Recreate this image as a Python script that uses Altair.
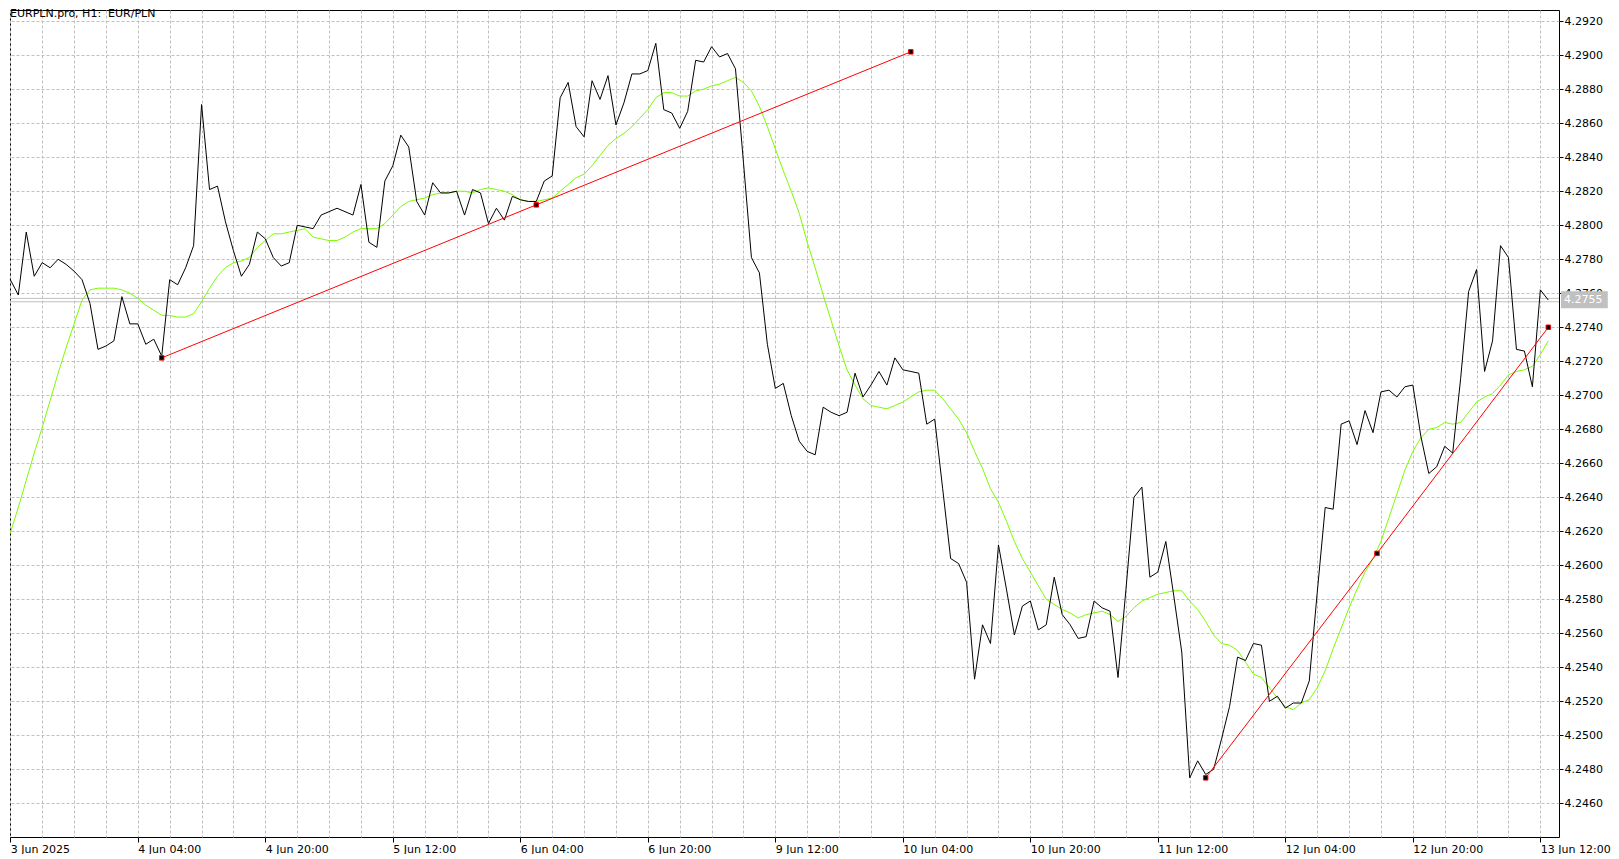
import json
import altair as alt
import pandas as pd

# ---------------- data ----------------
close = [
    4.2768, 4.2759, 4.2796, 4.2770, 4.2778, 4.2775, 4.2780, 4.2777, 4.2773, 4.2768,
    4.2754, 4.2727, 4.2729, 4.2732, 4.2758, 4.2742, 4.2742, 4.2730, 4.2733, 4.2723,
    4.2768, 4.2765, 4.2775, 4.2788, 4.2871, 4.2821, 4.2823, 4.2802, 4.2785, 4.2770,
    4.2777, 4.2796, 4.2792, 4.2781, 4.2776, 4.2778, 4.2800, 4.2799, 4.2798, 4.2806,
    4.2808, 4.2810, 4.2808, 4.2806, 4.2824, 4.2790, 4.2787, 4.2826, 4.2835, 4.2853,
    4.2846, 4.2814, 4.2806, 4.2825, 4.2819, 4.2819, 4.2820, 4.2806, 4.2821, 4.2819,
    4.2801, 4.2810, 4.2803, 4.2817, 4.2815, 4.2814, 4.2814, 4.2826, 4.2829, 4.2875,
    4.2884, 4.2858, 4.2852, 4.2885, 4.2874, 4.2888, 4.2859, 4.2872, 4.2889, 4.2889,
    4.2891, 4.2907, 4.2868, 4.2866, 4.2857, 4.2867, 4.2897, 4.2896, 4.2905, 4.2899,
    4.2901, 4.2892, 4.2837, 4.2781, 4.2772, 4.2730, 4.2704, 4.2707, 4.2688, 4.2673,
    4.2667, 4.2665, 4.2693, 4.2690, 4.2688, 4.2690, 4.2713, 4.2699, 4.2706, 4.2714,
    4.2706, 4.2722, 4.2715, 4.2714, 4.2713, 4.2683, 4.2686, 4.2645, 4.2604, 4.2601,
    4.2590, 4.2533, 4.2565, 4.2554, 4.2612, 4.2586, 4.2559, 4.2576, 4.2579, 4.2562,
    4.2565, 4.2593, 4.2571, 4.2565, 4.2557, 4.2558, 4.2579, 4.2575, 4.2573, 4.2534,
    4.2586, 4.2640, 4.2646, 4.2593, 4.2596, 4.2614, 4.2582, 4.2549, 4.2475, 4.2485,
    4.2477, 4.2480, 4.2498, 4.2517, 4.2546, 4.2544, 4.2554, 4.2553, 4.2520, 4.2523,
    4.2516, 4.2519, 4.2519, 4.2532, 4.2584, 4.2634, 4.2633, 4.2683, 4.2685, 4.2671,
    4.2691, 4.2678, 4.2702, 4.2703, 4.2699, 4.2705, 4.2706, 4.2676, 4.2654, 4.2658,
    4.2670, 4.2666, 4.2710, 4.2761, 4.2774, 4.2714, 4.2732, 4.2788, 4.2781, 4.2727,
    4.2726, 4.2705, 4.2762, 4.2756,
]

ma = [
    4.2619, 4.2634, 4.2650, 4.2666, 4.2681, 4.2697, 4.2713, 4.2728, 4.2742, 4.2756,
    4.2762, 4.2763, 4.2763, 4.2763, 4.2762, 4.2760, 4.2757, 4.2753, 4.2750, 4.2747,
    4.2747, 4.2746, 4.2746, 4.2748, 4.2755, 4.2763, 4.2770, 4.2775, 4.2778, 4.2779,
    4.2781, 4.2787, 4.2791, 4.2795, 4.2795, 4.2796, 4.2797, 4.2798, 4.2793, 4.2792,
    4.2791, 4.2791, 4.2793, 4.2796, 4.2798, 4.2798, 4.2798, 4.2801, 4.2806, 4.2811,
    4.2814, 4.2815, 4.2816, 4.2818, 4.2819, 4.2819, 4.2820, 4.2820, 4.2819, 4.2821,
    4.2822, 4.2821, 4.2820, 4.2818, 4.2815, 4.2814, 4.2814, 4.2815, 4.2816, 4.2820,
    4.2824, 4.2828, 4.2830, 4.2835, 4.2841, 4.2847, 4.2851, 4.2854, 4.2858, 4.2863,
    4.2868, 4.2875, 4.2878, 4.2878, 4.2876, 4.2876, 4.2879, 4.2880, 4.2882, 4.2883,
    4.2885, 4.2887, 4.2884, 4.2879, 4.2870, 4.2858, 4.2845, 4.2832, 4.2820, 4.2807,
    4.2790, 4.2775, 4.2759, 4.2744, 4.2729, 4.2715, 4.2706, 4.2698, 4.2694, 4.2693,
    4.2692, 4.2694, 4.2696, 4.2699, 4.2702, 4.2703, 4.2703, 4.2698, 4.2692, 4.2686,
    4.2678, 4.2667, 4.2657, 4.2645, 4.2637, 4.2626, 4.2614, 4.2604, 4.2596, 4.2588,
    4.2580, 4.2577, 4.2574, 4.2572, 4.2569, 4.2571, 4.2572, 4.2573, 4.2571, 4.2567,
    4.2570, 4.2575, 4.2579, 4.2581, 4.2583, 4.2584, 4.2585, 4.2585, 4.2579, 4.2574,
    4.2567, 4.2559, 4.2554, 4.2553, 4.2550, 4.2543, 4.2536, 4.2534, 4.2528, 4.2522,
    4.2517, 4.2515, 4.2519, 4.2521, 4.2528, 4.2538, 4.2551, 4.2563, 4.2575, 4.2586,
    4.2596, 4.2604, 4.2614, 4.2628, 4.2642, 4.2656, 4.2667, 4.2675, 4.2680, 4.2681,
    4.2684, 4.2683, 4.2684, 4.2690, 4.2696, 4.2699, 4.2701, 4.2706, 4.2712, 4.2714,
    4.2715, 4.2717, 4.2724, 4.2732,
]

trend1_bar = [19, 66, 113]
trend1_val = [4.2722, 4.2812, 4.2902]
trend2_bar = [150, 171.5, 193]
trend2_val = [4.2475, 4.2607, 4.2740]

bid = 4.2755
ask = 4.2757

x_label_bars = [0, 16, 32, 48, 64, 80, 96, 112, 128, 144, 160, 176, 192]
x_labels = ["3 Jun 2025", "4 Jun 04:00", "4 Jun 20:00", "5 Jun 12:00",
            "6 Jun 04:00", "6 Jun 20:00", "9 Jun 12:00", "10 Jun 04:00",
            "10 Jun 20:00", "11 Jun 12:00", "12 Jun 04:00", "12 Jun 20:00",
            "13 Jun 12:00"]
x_grid_bars = [0, 4, 8, 12, 16, 20, 24, 28, 32, 36, 40, 44, 48, 52, 56, 60,
               64, 68, 72, 76, 80, 84, 88, 92, 96, 100, 104, 108, 112, 116,
               120, 124, 128, 132, 136, 140, 144, 148, 152, 156, 160, 164,
               168, 172, 176, 180, 184, 188, 192]
y_ticks = [4.2460, 4.2480, 4.2500, 4.2520, 4.2540, 4.2560, 4.2580, 4.2600,
           4.2620, 4.2640, 4.2660, 4.2680, 4.2700, 4.2720, 4.2740, 4.2760,
           4.2780, 4.2800, 4.2820, 4.2840, 4.2860, 4.2880, 4.2900, 4.2920]

title_text = "EURPLN.pro, H1:\u00a0 EUR/PLN"

# ---------------- chart ----------------
W, H = 1549, 827
FONT = "DejaVu Sans"
GRID = "#c0c0c0"

xs = alt.Scale(domain=[-0.04, 194.34], nice=False, zero=False)
ys = alt.Scale(domain=[4.24402, 4.29266], nice=False, zero=False)

label_expr = ("datum.value % 16 === 0 ? " + json.dumps(x_labels) +
              "[datum.value / 16] : ''")

x_axis = alt.Axis(values=x_grid_bars, grid=True, gridColor=GRID,
                  gridDash=[3, 2], gridWidth=1, domain=False,
                  ticks=True, tickColor="#000000", tickSize=5,
                  tickOpacity={"condition": {"test": "datum.value % 16 === 0", "value": 1}, "value": 0},
                  labelExpr=label_expr, labelAlign="left", labelBaseline="top",
                  labelPadding=1, labelFont=FONT, labelFontSize=11,
                  labelColor="#000000", labelFlush=False, labelOverlap=False,
                  labelBound=False, title=None)
y_axis = alt.Axis(orient="right", values=y_ticks, format=".4f", grid=True,
                  gridColor=GRID, gridDash=[3, 2], gridWidth=1, domain=False,
                  tickColor="#000000", tickSize=4, labelPadding=1,
                  labelFont=FONT, labelFontSize=11, labelColor="#000000",
                  labelFlush=False, labelOverlap=False, labelBound=False,
                  title=None)


def X():
    return alt.X("i:Q", scale=xs, axis=x_axis)


def Y():
    return alt.Y("v:Q", scale=ys, axis=y_axis)


bars = list(range(len(close)))
df_close = pd.DataFrame({"i": bars, "v": close})
df_ma = pd.DataFrame({"i": bars, "v": ma})
df_trend = pd.DataFrame({
    "i": trend1_bar + trend2_bar,
    "v": trend1_val + trend2_val,
    "g": ["t1"] * len(trend1_bar) + ["t2"] * len(trend2_bar),
})
df_lines = pd.DataFrame({"v": [ask, bid]})
df_price = pd.DataFrame({"v": [bid], "t": [f"{bid:.4f}"]})
df_title = pd.DataFrame({"t": [title_text]})

rules = alt.Chart(df_lines).mark_rule(color=GRID, strokeWidth=1).encode(y=Y())

ma_line = alt.Chart(df_ma).mark_line(color="#7cfc00", strokeWidth=1).encode(
    x=X(), y=Y())

price_line = alt.Chart(df_close).mark_line(color="#000000", strokeWidth=1).encode(
    x=X(), y=Y())

trend_lines = alt.Chart(df_trend).mark_line(color="#ff0000", strokeWidth=1).encode(
    x=X(), y=Y(), detail="g:N")

trend_pts = alt.Chart(df_trend).mark_square(
    size=20, fill="#000000", stroke="#ff0000", strokeWidth=1, opacity=1
).encode(x=X(), y=Y())

title = alt.Chart(df_title).mark_text(
    align="left", baseline="alphabetic", font=FONT, fontSize=11, color="#000000"
).encode(x=alt.value(0), y=alt.value(7), text="t:N")

box = alt.Chart(df_price).mark_point(
    shape="M-1.375,-0.5L1.375,-0.5L1.375,0.5L-1.375,0.5Z", filled=True,
    fill=GRID, strokeWidth=0, opacity=1, size=1156, yOffset=-2
).encode(x=alt.value(W + 2 + 23.4), y=Y())

box_text = alt.Chart(df_price).mark_text(
    align="left", baseline="middle", font=FONT, fontSize=11, color="#ffffff",
    yOffset=-2
).encode(x=alt.value(W + 5), y=Y(), text="t:N")

chart = alt.layer(
    rules, ma_line, price_line, trend_lines, trend_pts, title, box, box_text
).properties(
    width=W, height=H, padding=0, background="#ffffff"
).configure_view(
    stroke="#000000", strokeWidth=1
)

chart.save("out.html", embed_options={"renderer": "svg", "actions": False})
